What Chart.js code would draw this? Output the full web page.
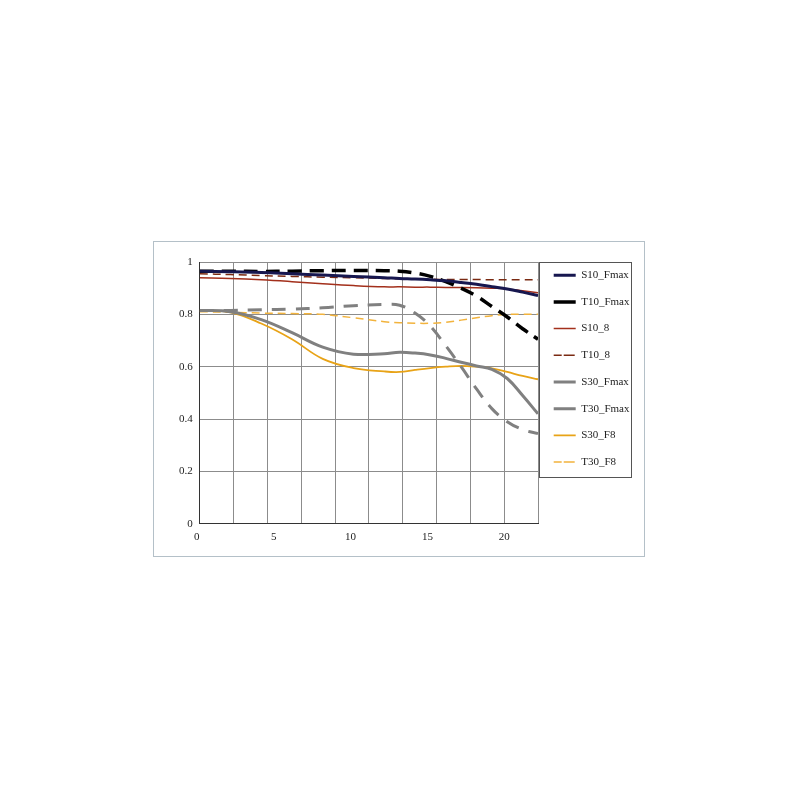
<!DOCTYPE html>
<html>
<head>
<meta charset="utf-8">
<script src="https://cdn.jsdelivr.net/npm/chart.js@4"></script>
<style>
  html, body { margin: 0; padding: 0; background: #fff; }
  .frame {
    position: absolute; left: 153px; top: 241px;
    width: 492px; height: 316px;
    box-sizing: border-box; border: 1px solid #b4c0c8;
  }
</style>
</head>
<body>
<div class="frame"><canvas id="mtf"></canvas></div>
<script>
// image height (x) and contrast values
const imageHeight = [0, 2, 4, 6, 8, 10, 12, 13, 14, 15, 16, 17, 18, 19, 20, 21, 22];

const s10Fmax = [0.965, 0.963, 0.96, 0.955, 0.95, 0.945, 0.94, 0.937, 0.935, 0.932, 0.928, 0.922, 0.915, 0.906, 0.897, 0.885, 0.872];
const t10Fmax = [0.965, 0.965, 0.964, 0.965, 0.967, 0.968, 0.967, 0.965, 0.958, 0.945, 0.925, 0.9, 0.87, 0.83, 0.79, 0.745, 0.705];
const s10F8   = [0.94, 0.937, 0.932, 0.925, 0.917, 0.91, 0.905, 0.905, 0.904, 0.904, 0.903, 0.903, 0.902, 0.9, 0.897, 0.89, 0.883];
const t10F8   = [0.955, 0.952, 0.948, 0.945, 0.942, 0.94, 0.937, 0.936, 0.935, 0.934, 0.933, 0.933, 0.933, 0.932, 0.932, 0.932, 0.932];
const s30Fmax = [0.815, 0.81, 0.78, 0.73, 0.675, 0.648, 0.65, 0.655, 0.652, 0.645, 0.632, 0.617, 0.603, 0.59, 0.555, 0.49, 0.42];
const t30Fmax = [0.815, 0.815, 0.818, 0.82, 0.825, 0.833, 0.838, 0.835, 0.805, 0.755, 0.68, 0.6, 0.515, 0.44, 0.39, 0.36, 0.345];
const s30F8   = [0.815, 0.808, 0.765, 0.705, 0.63, 0.595, 0.582, 0.58, 0.588, 0.595, 0.6, 0.603, 0.6, 0.594, 0.58, 0.565, 0.552];
const t30F8   = [0.81, 0.808, 0.805, 0.803, 0.8, 0.787, 0.772, 0.768, 0.766, 0.766, 0.77, 0.778, 0.787, 0.795, 0.8, 0.8, 0.8];

const seriesNames = ['S10_Fmax', 'T10_Fmax', 'S10_8', 'T10_8', 'S30_Fmax', 'T30_Fmax', 'S30_F8', 'T30_F8'];
const seriesValues = [s10Fmax, t10Fmax, s10F8, t10F8, s30Fmax, t30Fmax, s30F8, t30F8];

const xTicks = [0, 5, 10, 15, 20];
const yTicks = [0, 0.2, 0.4, 0.6, 0.8, 1];

// line looks
const colors = ['#17174f', '#000000', '#a3301c', '#7a2a12', '#808080', '#808080', '#e8a317', '#f2b33d'];
const widths = [3, 3.5, 1.5, 1.5, 3, 3, 1.8, 1.5];
const dashes = [[], [14, 8], [], [8, 5], [], [14, 10], [], [8, 5]];
const solidInLegend = ['T10_Fmax', 'T30_Fmax'];

const serif = "'Liberation Serif', 'DejaVu Serif', serif";

const datasets = seriesNames.map((name, i) => ({
  label: name,
  data: imageHeight.map((x, j) => ({ x: x, y: seriesValues[i][j] })),
  borderColor: colors[i],
  backgroundColor: colors[i],
  borderWidth: widths[i],
  borderDash: dashes[i],
  pointRadius: 0,
  tension: 0.4,
  fill: false
}));

// pull the legend up a bit and frame it
const legendNudge = {
  id: 'legendNudge',
  afterLayout(chart) {
    chart.legend.top -= 8;
    chart.legend.bottom -= 8;
  }
};
const legendFrame = {
  id: 'legendFrame',
  afterDraw(chart) {
    const { ctx, chartArea } = chart;
    ctx.save();
    ctx.strokeStyle = '#555';
    ctx.lineWidth = 1;
    ctx.strokeRect(Math.round(chartArea.right) + 1.5, Math.round(chartArea.top) + 0.5, 92, 215);
    ctx.restore();
  }
};

new Chart(document.getElementById('mtf'), {
  type: 'line',
  data: { datasets: datasets },
  options: {
    responsive: true,
    maintainAspectRatio: false,
    animation: false,
    layout: { padding: { left: 18, right: 10, top: 20, bottom: 5 } },
    plugins: {
      tooltip: { enabled: false },
      legend: {
        position: 'right',
        align: 'start',
        maxWidth: 96,
        labels: {
          boxWidth: 22,
          boxHeight: 0,
          padding: 15.7,
          color: '#222',
          font: { family: serif, size: 11 },
          generateLabels(chart) {
            const items = Chart.defaults.plugins.legend.labels.generateLabels(chart);
            items.forEach(it => { if (solidInLegend.includes(it.text)) it.lineDash = []; });
            return items;
          }
        }
      }
    },
    scales: {
      x: {
        type: 'linear',
        min: 0,
        max: 22,
        afterBuildTicks(scale) { scale.ticks = xTicks.map(v => ({ value: v })); },
        ticks: { color: '#222', padding: 7, labelOffset: -3, font: { family: serif, size: 11 }, callback: v => String(v) },
        grid: { display: false, drawTicks: false },
        border: { color: '#333', width: 1 }
      },
      xGrid: {
        type: 'linear',
        position: 'bottom',
        min: 0,
        max: 22,
        afterBuildTicks(scale) {
          scale.ticks = Array.from({ length: 11 }, (_, i) => ({ value: i * 2.2 }));
        },
        ticks: { display: false },
        grid: {
          drawTicks: false,
          color: ctx => ctx.index === 0 ? 'rgba(0,0,0,0)' : '#8c8c8c'
        },
        border: { display: false }
      },
      y: {
        min: 0,
        max: 1,
        afterBuildTicks(scale) { scale.ticks = yTicks.map(v => ({ value: v })); },
        ticks: { color: '#222', padding: 7, font: { family: serif, size: 11 }, callback: v => String(v) },
        grid: { drawTicks: false, color: '#8c8c8c' },
        border: { color: '#333', width: 1 }
      }
    }
  },
  plugins: [legendNudge, legendFrame]
});
</script>
</body>
</html>
